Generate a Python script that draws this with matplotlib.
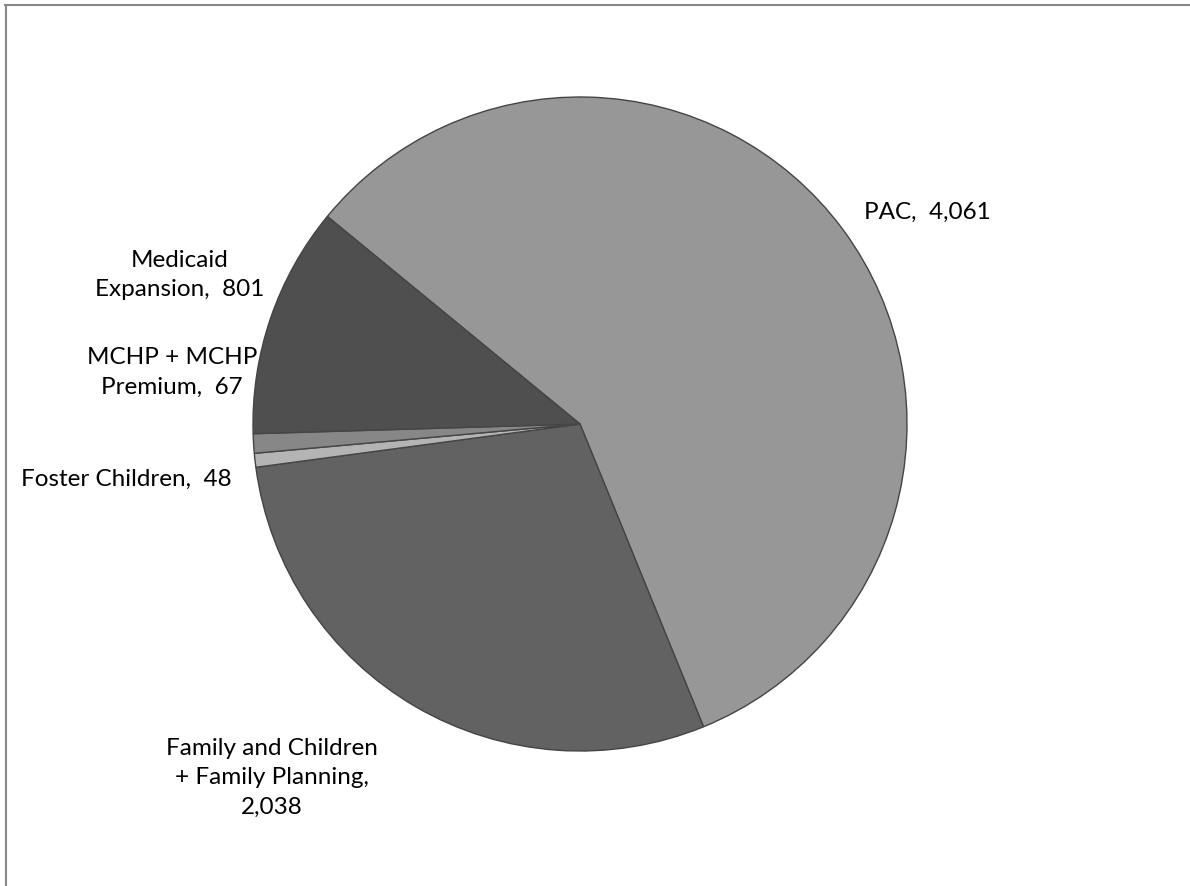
import matplotlib
matplotlib.use("Agg")
import matplotlib.pyplot as plt
from matplotlib.lines import Line2D

# ---- data ----
categories = ["PAC", "Family and Children + Family Planning", "Foster Children", "MCHP + MCHP Premium", "Medicaid Expansion"]
values = [4061, 2038, 48, 67, 801]
label_texts = ["PAC,  4,061", "Family and Children\n+ Family Planning,\n2,038", "Foster Children,  48",
               "MCHP + MCHP\nPremium,  67", "Medicaid\nExpansion,  801"]
colors = ["#979797", "#626262", "#b4b4b4", "#878787", "#4f4f4f"]

W, H = 1190, 886
fig = plt.figure(figsize=(W / 100, H / 100), dpi=100)
fig.patch.set_facecolor("white")

# pie geometry in pixels
cx, cy, r = 580, 424, 327
ax = fig.add_axes([(cx - r) / W, (H - cy - r) / H, 2 * r / W, 2 * r / H])
ax.pie(values, colors=colors, startangle=140.6, counterclock=False, radius=1,
       wedgeprops=dict(edgecolor="#454545", linewidth=1.0))
ax.set_xlim(-1, 1)
ax.set_ylim(-1, 1)
ax.set_aspect("auto")
ax.axis("off")

# label positions (pixel centres)
label_pos = [(927, 212), (272, 778), (126, 479), (172, 372), (180, 275)]
for txt, (px, py) in zip(label_texts, label_pos):
    fig.text(px / W, 1 - py / H, txt, ha="center", va="center", fontsize=17.5,
             family=["Lato", "DejaVu Sans"], color="#000000", linespacing=1.52,
             multialignment="center")

# chart-area frame (top and left visible)
fig.add_artist(Line2D([5 / W, 1.0], [1 - 5 / H, 1 - 5 / H], color="#898989", linewidth=1.5,
                      transform=fig.transFigure))
fig.add_artist(Line2D([6 / W, 6 / W], [1 - 5 / H, 0.0], color="#898989", linewidth=1.5,
                      transform=fig.transFigure))

fig.savefig("out.png", dpi=100, facecolor="white")
